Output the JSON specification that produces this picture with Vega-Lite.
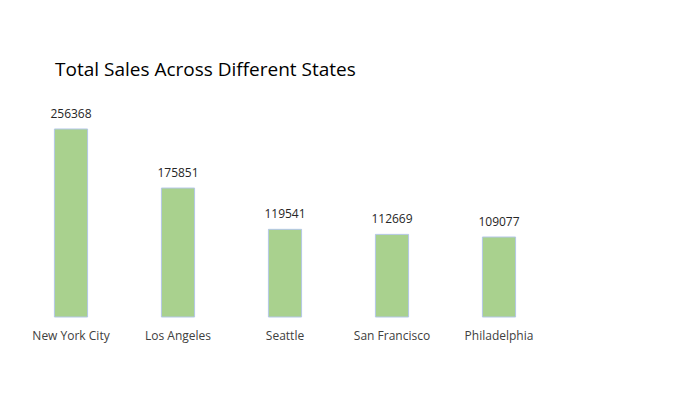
{
  "$schema": "https://vega.github.io/schema/vega-lite/v6.json",
  "autosize": "none",
  "width": 535,
  "height": 220,
  "padding": {"left": 17.5, "top": 97, "right": 129.5, "bottom": 98},
  "background": "white",
  "config": {"view": {"stroke": null}, "font": "Open Sans"},
  "title": {
    "text": "Total Sales Across Different States",
    "anchor": "start",
    "frame": "group",
    "dx": 37.5,
    "offset": 17,
    "fontSize": 19,
    "fontWeight": "normal",
    "font": "Open Sans",
    "color": "#000000"
  },
  "data": {
    "values": [
      {"city": "New York City", "sales": 256368},
      {"city": "Los Angeles", "sales": 175851},
      {"city": "Seattle", "sales": 119541},
      {"city": "San Francisco", "sales": 112669},
      {"city": "Philadelphia", "sales": 109077}
    ]
  },
  "encoding": {
    "x": {
      "field": "city",
      "type": "nominal",
      "sort": null,
      "scale": {"paddingInner": 0.69, "paddingOuter": 0.345},
      "axis": {
        "title": null,
        "labelAngle": 0,
        "domain": false,
        "ticks": false,
        "labelPadding": 13,
        "labelFontSize": 12,
        "labelColor": "#404040",
        "labelFont": "Open Sans"
      }
    },
    "y": {
      "field": "sales",
      "type": "quantitative",
      "scale": {"domain": [0, 300000]},
      "axis": null
    }
  },
  "layer": [
    {
      "mark": {"type": "bar", "color": "#a9d18e", "stroke": "#b4c7e7", "strokeWidth": 1}
    },
    {
      "mark": {"type": "text", "baseline": "bottom", "dy": -8, "fontSize": 12, "color": "#262626", "font": "Open Sans"},
      "encoding": {"text": {"field": "sales", "type": "quantitative", "format": "d"}}
    }
  ]
}
